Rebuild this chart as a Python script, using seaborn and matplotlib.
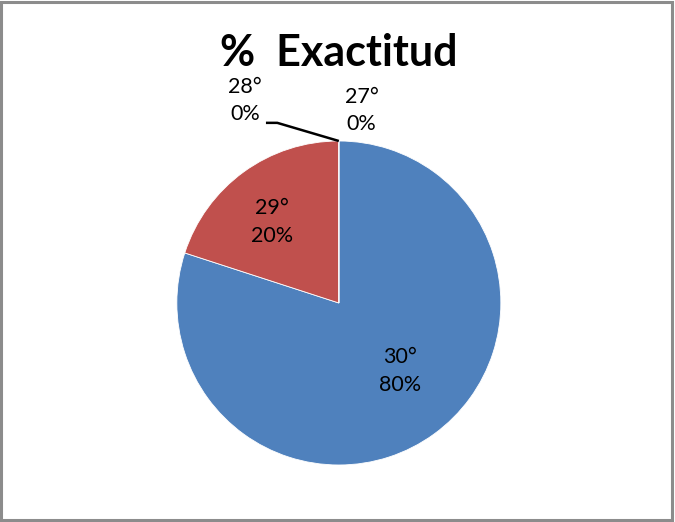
import matplotlib
matplotlib.use("Agg")
import matplotlib.pyplot as plt
from matplotlib.patches import Rectangle
import seaborn as sns

sns.set_theme(style="white")
plt.rcParams['font.family'] = ['Lato', 'DejaVu Sans']

categories = ["30°", "29°", "28°", "27°"]
values = [80, 20, 0, 0]
colors = ["#4F81BD", "#C0504D", "#9BBB59", "#8064A2"]

fig = plt.figure(figsize=(6.75, 5.22), dpi=100)
fig.patch.set_facecolor("white")
fig.patches.append(Rectangle((0.002, 0.003), 0.994, 0.993, transform=fig.transFigure,
                             fill=False, edgecolor="#8c8c8c", linewidth=2.2))

ax = fig.add_axes([0.502 - 0.24, 0.4195 - 0.3103, 0.48, 0.6207])
wedges, _ = ax.pie(values, colors=colors, startangle=90, counterclock=False,
                   wedgeprops=dict(edgecolor="white", linewidth=0.6))
ax.set_xlim(-1, 1)
ax.set_ylim(-1, 1)
ax.set_aspect("equal")

total = sum(values)
lbl_kw = dict(ha="center", va="center", fontsize=15.5, color="black", linespacing=1.45)

# inner labels for the non-zero slices
offsets = {0: (0.38, -0.42), 1: (-0.41, 0.50)}
for i, (off_x, off_y) in offsets.items():
    ax.text(off_x, off_y, f"{categories[i]}\n{values[i] / total:.0%}", **lbl_kw)

# zero-size slices sit at the top of the pie
ax.text(0.14, 1.19, f"{categories[3]}\n{values[3] / total:.0%}", **lbl_kw)
ax.text(-0.58, 1.25, f"{categories[2]}\n{values[2] / total:.0%}", **lbl_kw)
ax.plot([-0.45, -0.38, 0.0], [1.112, 1.112, 1.0], color="black", lw=1.8,
        clip_on=False, solid_capstyle="butt")

fig.text(0.502, 0.898, "%  Exactitud", ha="center", va="center",
         fontsize=31, fontweight="bold", color="black")

fig.savefig("out.png", dpi=100, facecolor="white")
